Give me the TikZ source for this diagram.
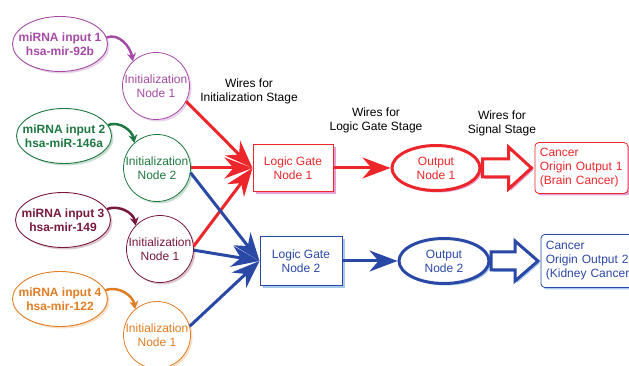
\documentclass[tikz,border=0pt]{standalone}
\usepackage{fontspec}
\setmainfont{Liberation Sans}
\usetikzlibrary{arrows.meta, positioning, shapes.geometric, shadows}

\definecolor{mirpurple}{RGB}{165,75,165}
\definecolor{mirgreen}{RGB}{30,120,65}
\definecolor{mirmaroon}{RGB}{120,25,60}
\definecolor{mirorange}{RGB}{225,125,35}
\definecolor{wirered}{RGB}{236,38,42}
\definecolor{wireblue}{RGB}{42,72,165}
\definecolor{redshade}{RGB}{228,160,210}
\definecolor{blueshade}{RGB}{165,200,236}

\begin{document}
\begin{tikzpicture}[
    x=1pt, y=1pt,
    every node/.style={font=\fontsize{12}{14}\selectfont},
    inball/.style={ellipse, draw=#1, fill=white, line width=0.9pt, text=#1, align=center,
        font=\fontsize{12}{14}\selectfont\bfseries, minimum width=95pt, minimum height=55pt,
        inner xsep=-12pt, inner ysep=0pt,
        drop shadow={shadow xshift=2pt, shadow yshift=-2pt, fill=#1!25, opacity=1}},
    initnode/.style={circle, draw=#1, fill=white, line width=0.8pt, text=#1, align=center,
        minimum size=67pt, inner sep=0pt,
        drop shadow={shadow xshift=2pt, shadow yshift=-2pt, fill=#1!25, opacity=1}},
    gatebox/.style 2 args={rectangle, draw=#1, fill=white, line width=1pt, text=#1, align=center,
        drop shadow={shadow xshift=3pt, shadow yshift=-3pt, fill=#2, opacity=1}},
    outnode/.style 2 args={ellipse, draw=#1, fill=white, line width=3pt, text=#1, align=center,
        minimum width=88pt, minimum height=45pt, inner sep=0pt,
        drop shadow={shadow xshift=2pt, shadow yshift=-2pt, fill=#2, opacity=1}},
    sigline/.style 2 args={draw=#1, fill=white, line width=3pt, line join=miter,
        drop shadow={shadow xshift=2pt, shadow yshift=-2pt, fill=#2, opacity=1}},
    cancerbox/.style 2 args={rectangle, rounded corners=4pt, draw=#1, fill=white, line width=0.8pt,
        text=#1, align=left, inner xsep=5pt, minimum height=51pt,
        drop shadow={shadow xshift=2pt, shadow yshift=-2pt, fill=#2, opacity=1}},
    stagelabel/.style={align=center, text=black},
    wire/.style={line width=3pt, -{Stealth[length=28pt, width=21pt, inset=9pt]}},
    feed/.style={line width=2.5pt, -{Stealth[length=8pt, width=9pt]}}
]
\useasboundingbox (0,0) rectangle (629,366);

% ============ INPUTS ============
\node[inball=mirpurple] (in1) at (60,322) {miRNA input 1\\hsa-mir-92b};
\node[inball=mirgreen] (in2) at (64,230) {miRNA input 2\\hsa-miR-146a};
\node[inball=mirmaroon] (in3) at (63,146) {miRNA input 3\\hsa-mir-149};
\node[inball=mirorange] (in4) at (60,67) {miRNA input 4\\hsa-mir-122};

% ============ INITIALIZATION ============
\node[initnode=mirpurple] (ini1) at (156,280) {Initialization\\Node 1};
\node[initnode=mirgreen] (ini2) at (157,198) {Initialization\\Node 2};
\node[initnode=mirmaroon] (ini3) at (160,117) {Initialization\\Node 1};
\node[initnode=mirorange] (ini4) at (157,31) {Initialization\\Node 1};

\draw[feed, mirpurple] (in1.8) to[out=20, in=100] (ini1.133);
\draw[feed, mirgreen] (in2.14) to[out=20, in=100] (ini2.132);
\draw[feed, mirmaroon] (in3.14) to[out=20, in=100] (ini3.136);
\draw[feed, mirorange] (in4.11) to[out=20, in=100] (ini4.130);

% ============ LOGIC GATES ============
\node[gatebox={wirered}{redshade}, minimum width=80pt, minimum height=47pt] (lg1) at (293,198) {Logic Gate\\Node 1};
\node[gatebox={wireblue}{blueshade}, minimum width=82pt, minimum height=49pt] (lg2) at (301,105) {Logic Gate\\Node 2};

% ============ OUTPUTS ============
\node[outnode={wirered}{redshade}] (out1) at (436,198) {Output\\Node 1};
\node[outnode={wireblue}{blueshade}, minimum width=90pt] (out2) at (444,105) {Output\\Node 2};

\node[cancerbox={wirered}{redshade}, text width=83pt, right=53pt of out1] (can1) {Cancer\\Origin Output 1\\(Brain Cancer)};
\node[cancerbox={wireblue}{blueshade}, text width=100pt, minimum height=53pt, right=50pt of out2] (can2) {Cancer\\Origin Output 2\\(Kidney Cancer)};

% hollow signal arrows
\draw[sigline={wirered}{redshade}] (out1.east) ++(1,0) coordinate (sig1)
    -- ++(0,9) -- ++(26,0) -- ++(0,12) -- ++(23,-21) -- ++(-23,-21) -- ++(0,12) -- ++(-26,0) -- cycle;
\draw[sigline={wireblue}{blueshade}] (out2.east) ++(0.5,0) coordinate (sig2)
    -- ++(0,9) -- ++(24,0) -- ++(0,11) -- ++(23,-20) -- ++(-23,-20) -- ++(0,11) -- ++(-24,0) -- cycle;

% ============ WIRES ============
\draw[wire, wirered] (ini1.-27) -- (lg1.west);
\draw[wire, wirered] (ini2.east) -- (lg1.west);
\draw[wire, wirered] (ini3.5) -- (lg1.west);
\draw[wire, wireblue] (ini2.-8) -- (lg2.west);
\draw[wire, wireblue] (ini3.-2) -- (lg2.west);
\draw[wire, wireblue] (ini4.15) -- (lg2.west);

\draw[wire, wirered] (lg1) -- (out1);
\draw[wire, wireblue] (lg2) -- (out2);

% ============ STAGE LABELS ============
\node[stagelabel] (st1) at (249,275) {Wires for\\Initialization Stage};
\node[stagelabel] (st2) at (376,246) {Wires for\\Logic Gate Stage};
\node[stagelabel] (st3) at (502,243) {Wires for\\Signal Stage};

\end{tikzpicture}
\end{document}
